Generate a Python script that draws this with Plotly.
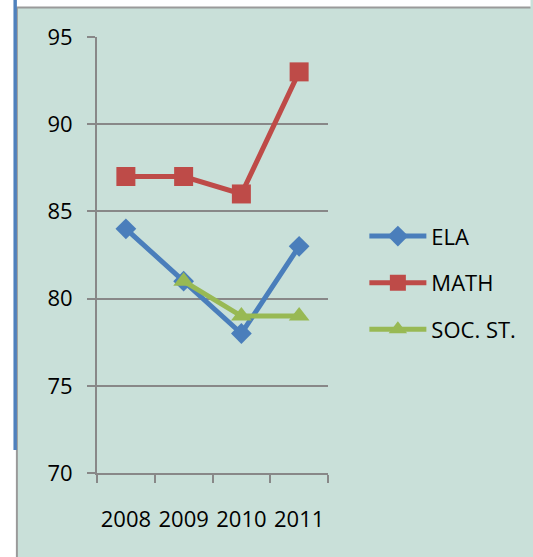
import plotly.graph_objects as go

years = ["2008", "2009", "2010", "2011"]
ela = [84, 81, 78, 83]
math_scores = [87, 87, 86, 93]
soc_st = [None, 81, 79, 79]
y_ticks = [70, 75, 80, 85, 90, 95]

W, H = 533, 557
L, R, T, B = 97, 332, 36.5, 473  # plot area in pixels


def px_x(x):
    return (x - L) / (R - L)


def px_y(y):
    return (B - y) / (B - T)


BG = "#C9E0D9"
FONT = dict(family="Open Sans", size=22, color="#000000")

fig = go.Figure()
fig.add_trace(go.Scatter(x=years, y=ela, name="ELA", mode="lines+markers",
                         line=dict(color="#4A7EBB", width=5),
                         marker=dict(symbol="diamond", size=16, color="#4A7EBB"),
                         legendgroup="a"))
fig.add_trace(go.Scatter(x=years, y=math_scores, name="MATH", mode="lines+markers",
                         line=dict(color="#BE4B48", width=5),
                         marker=dict(symbol="square", size=19, color="#BE4B48"),
                         legendgroup="b"))
fig.add_trace(go.Scatter(x=years, y=soc_st, name="SOC. ST.", mode="lines+markers",
                         line=dict(color="#98B954", width=5),
                         marker=dict(symbol="triangle-up", size=18, color="#98B954"),
                         legendgroup="c"))

shapes = [
    # white strips outside the chart frame
    dict(type="rect", xref="paper", yref="paper", x0=px_x(-5), x1=px_x(W + 5), y0=px_y(7), y1=px_y(-5),
         fillcolor="white", line=dict(width=0), layer="below"),
    dict(type="rect", xref="paper", yref="paper", x0=px_x(-5), x1=px_x(15), y0=px_y(H + 5), y1=px_y(-5),
         fillcolor="white", line=dict(width=0), layer="below"),
    # frame lines
    dict(type="line", xref="paper", yref="paper", x0=px_x(15), x1=px_x(W + 5), y0=px_y(7), y1=px_y(7),
         line=dict(color="#9A9A9A", width=2)),
    dict(type="line", xref="paper", yref="paper", x0=px_x(15.5), x1=px_x(15.5), y0=px_y(7), y1=px_y(H + 5),
         line=dict(color="#9A9A9A", width=2)),
    # blue side bar
    dict(type="rect", xref="paper", yref="paper", x0=px_x(12), x1=px_x(15.5), y0=px_y(450), y1=px_y(-2),
         fillcolor="#4F81BD", line=dict(width=0)),
]

fig.update_layout(
    width=W, height=H,
    margin=dict(l=L, r=W - R, t=T, b=H - B, pad=0),
    paper_bgcolor=BG, plot_bgcolor=BG,
    font=FONT,
    showlegend=True,
    legend=dict(x=px_x(369), y=px_y(215), xanchor="left", yanchor="top",
                bgcolor="rgba(0,0,0,0)", font=FONT, tracegroupgap=15, itemwidth=57),
    shapes=shapes,
    xaxis=dict(type="category", range=[-0.5, 3.5], showgrid=False,
               showline=True, linecolor="#888888", linewidth=2,
               ticks="outside", tickson="boundaries", ticklen=8, tickcolor="#888888", tickwidth=2,
               tickangle=0, ticklabelstandoff=26, zeroline=False, fixedrange=True),
    yaxis=dict(range=[70, 95], tickvals=y_ticks, showgrid=True, gridcolor="#888888", gridwidth=2,
               showline=True, linecolor="#888888", linewidth=2,
               ticks="outside", ticklen=8, tickcolor="#888888", tickwidth=2,
               ticklabelstandoff=10, zeroline=False, fixedrange=True),
)

fig.write_html("out.html", config={"displayModeBar": False},
               post_script="document.body.style.margin='0';document.body.style.overflow='hidden';")
